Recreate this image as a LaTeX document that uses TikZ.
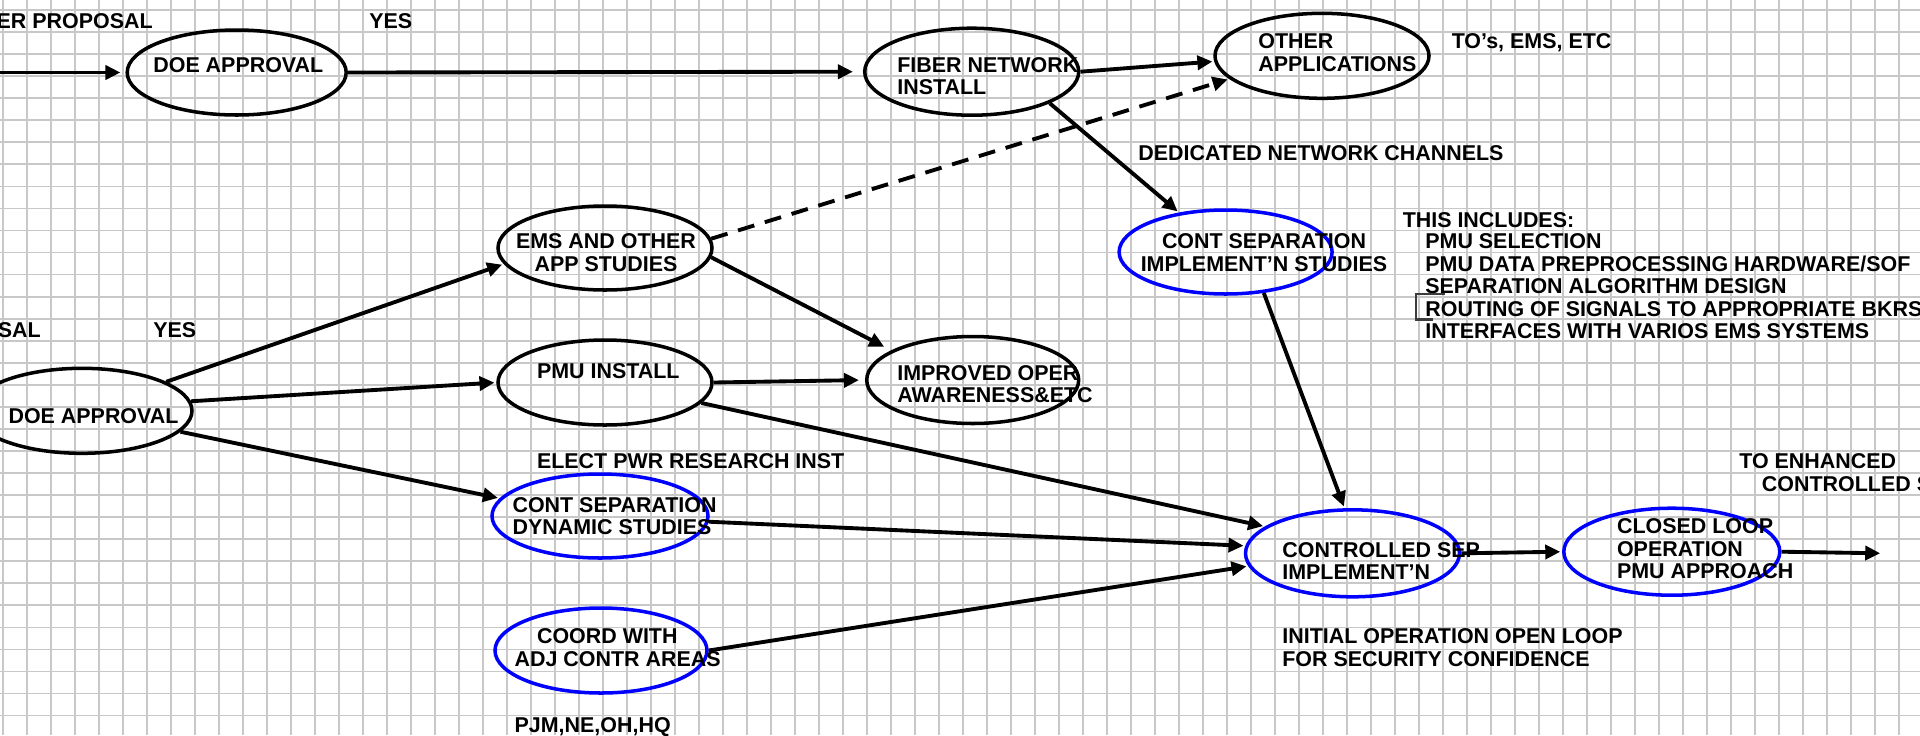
\documentclass[tikz,border=0pt]{standalone}
\usepackage{fontspec}
\setmainfont{Liberation Sans}
\usetikzlibrary{shapes.geometric, arrows.meta}
\definecolor{ovalblue}{RGB}{0, 0, 255}
\definecolor{gridgray}{RGB}{200, 200, 200}
\definecolor{cursorgray}{RGB}{60, 60, 60}
\newlength{\pxu}
\setlength{\pxu}{0.02cm}

\begin{document}
\begin{tikzpicture}[x=\pxu, y=-\pxu,
    oval/.style={ellipse, draw, line width=2pt, inner sep=0pt},
    blueoval/.style={oval, draw=ovalblue},
    ovalsize/.style 2 args={minimum width=#1*\pxu, minimum height=#2*\pxu},
    lbl/.style={font=\fontsize{12.2pt}{12.8pt}\selectfont\bfseries, inner sep=0pt, anchor=north west, align=left},
    conn/.style={line width=2.2pt, -{Triangle[length=0.3cm, width=0.28cm]}, shorten >=1pt},
    gridline/.style={gridgray, line width=1pt}]
  \useasboundingbox (0,0) rectangle (1920,735);
  \clip (0,0) rectangle (1920,735);
  \fill[white] (0,0) rectangle (1920,735);

  % Sheet grid
  \foreach \i in {0,...,79} \draw[gridline] ({3.3+24*\i},0) -- ({3.3+24*\i},735);
  \foreach \j in {0,...,33} \draw[gridline] (0,{10+22.05*\j}) -- (1920,{10+22.05*\j});

  % Fiber track
  \coordinate (inA) at (-6,72.5);
  \node[oval, ovalsize={219}{85}] (doeA) at (236.7,72.5) {};
  \node[oval, ovalsize={214}{87}] (fiber) at (971.7,71.7) {};
  \node[oval, ovalsize={214}{85}] (other) at (1322,55.8) {};
  \node[lbl, anchor=north east] (propA) at (153,13.3) {ER PROPOSAL};
  \node[lbl] (yesA) at (369,13.3) {YES};
  \node[lbl] (doeA-t) at (153,56.7) {DOE APPROVAL};
  \node[lbl] (fiber-t) at (897,56.7) {FIBER NETWORK\\INSTALL};
  \node[lbl] (other-t) at (1258,33.3) {OTHER\\APPLICATIONS};
  \node[lbl] (tos) at (1451.4,33.3) {TO's, EMS, ETC};
  \node[lbl] (dedicated) at (1138,145) {DEDICATED NETWORK CHANNELS};

  % PMU track
  \node[oval, ovalsize={214}{84}] (ems) at (605,248) {};
  \node[blueoval, ovalsize={213}{84}] (implstudy) at (1225.6,252) {};
  \node[oval, ovalsize={220}{85}] (doeB) at (82,410.8) {};
  \node[oval, ovalsize={214}{85}] (pmu) at (605,382.5) {};
  \node[oval, ovalsize={212}{87}] (improved) at (972.7,380) {};
  \node[lbl, anchor=north, align=center] (ems-t) at (606,233.3) {EMS AND OTHER\\APP STUDIES};
  \node[lbl, anchor=north, align=center] (implstudy-t) at (1264,233.3) {CONT SEPARATION\\IMPLEMENT'N STUDIES};
  \node[lbl] (includes) at (1402.4,211.7) {THIS INCLUDES:};
  \node[lbl] (includes-list) at (1425,233.3) {PMU SELECTION\\PMU DATA PREPROCESSING HARDWARE/SOF\\SEPARATION ALGORITHM DESIGN\\ROUTING OF SIGNALS TO APPROPRIATE BKRS\\INTERFACES WITH VARIOS EMS SYSTEMS};
  \draw[cursorgray, line width=1.2pt] (1445,294) -- (1416,294) -- (1416,319.5) -- (1433,319.5);
  \node[lbl, anchor=north east] (propB) at (41,321.7) {SAL};
  \node[lbl] (yesB) at (153,321.7) {YES};
  \node[lbl] (doeB-t) at (8.2,408.3) {DOE APPROVAL};
  \node[lbl] (pmu-t) at (536.7,363.3) {PMU INSTALL};
  \node[lbl] (improved-t) at (897,365) {IMPROVED OPER\\AWARENESS\&ETC};
  \node[lbl] (epri) at (536.7,453.3) {ELECT PWR RESEARCH INST};

  % Control track
  \node[blueoval, ovalsize={216}{84}] (dyn) at (600,516) {};
  \node[blueoval, ovalsize={212}{85}] (coord) at (601,650.5) {};
  \node[blueoval, ovalsize={214}{87}] (ctrlsep) at (1352.5,553.3) {};
  \node[blueoval, ovalsize={216}{87}] (closed) at (1671.8,551.7) {};
  \coordinate (outC) at (1882,553.3);
  \node[lbl] (dyn-t) at (512.2,496.7) {CONT SEPARATION\\DYNAMIC STUDIES};
  \node[lbl] (coord-t) at (514.3,628.3) {\hspace*{22.4\pxu}COORD WITH\\ADJ CONTR AREAS};
  \node[lbl] (areas) at (514.3,716.7) {PJM,NE,OH,HQ};
  \node[lbl] (ctrlsep-t) at (1282,541.7) {CONTROLLED SEP\\IMPLEMENT'N};
  \node[lbl] (closed-t) at (1616.7,518.3) {CLOSED LOOP\\OPERATION\\PMU APPROACH};
  \node[lbl] (initial) at (1282,628.3) {INITIAL OPERATION OPEN LOOP\\FOR SECURITY CONFIDENCE};
  \node[lbl] (enhanced) at (1739,453.3) {TO ENHANCED\\\hspace*{22.6\pxu}CONTROLLED S};

  % Connectors
  \draw[conn, shorten >=5\pxu] (inA) -- (doeA.west);
  \draw[conn, shorten >=10\pxu] (doeA.east) -- (fiber.west);
  \draw[conn] (fiber.east) -- (other.183);
  \draw[conn, dash pattern=on 17\pxu off 11\pxu] (ems.5) -- (other.194);
  \draw[conn] (fiber.-22) -- (implstudy);
  \draw[conn] (doeB.19) -- (ems.189);
  \draw[conn] (doeB.5) -- (pmu.west);
  \draw[conn] (doeB.-12) -- (dyn.170);
  \draw[conn, shorten >=8\pxu] (ems.-5) -- (improved.160);
  \draw[conn, shorten >=6\pxu] (pmu.east) -- (improved.west);
  \draw[conn] (pmu.-12) -- (ctrlsep.163);
  \draw[conn] (implstudy.-47) -- (ctrlsep.100);
  \draw[conn] (dyn.-3) -- (ctrlsep.176);
  \draw[conn] (coord.east) -- (ctrlsep.187);
  \draw[conn] (ctrlsep.east) -- (closed.west);
  \draw[conn] (closed.east) -- (outC);
\end{tikzpicture}
\end{document}
